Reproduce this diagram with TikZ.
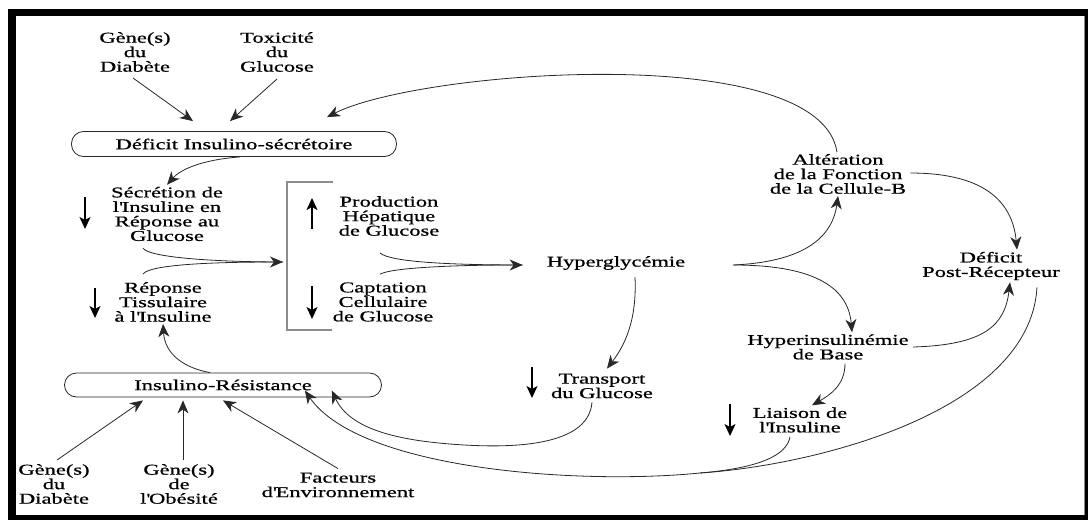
\documentclass[tikz,border=0pt]{standalone}
\usepackage{fontspec}
\setmainfont{Liberation Serif}[FakeStretch=1.5, FakeBold=0.8]
\usepackage{tikz}
\usetikzlibrary{arrows.meta, calc}
\definecolor{linegray}{RGB}{40,40,40}
\definecolor{brackgray}{RGB}{140,140,140}
\tikzstyle{ar} = [-{Stealth[length=13pt,width=11pt,inset=4pt]}, linegray, line width=0.8pt]
\tikzstyle{ind} = [-{Stealth[length=12pt,width=11pt,inset=3pt]}, black, line width=1.4pt]
\newcommand{\q}{\textquotesingle}

\begin{document}
\begin{tikzpicture}[x=1pt, y=1pt,
  lbl/.style={align=center, inner sep=2pt, font=\fontsize{15}{14.5}\selectfont},
  oval/.style={draw=linegray, line width=0.8pt, rounded corners=12pt, inner sep=0pt, font=\fontsize{15}{14.5}\selectfont},
  ln/.style={linegray, line width=0.8pt}]

  % frame
  \useasboundingbox (0,0) rectangle (1088,-520);
  \fill[black] (8,-9) rectangle (1088,-520);
  \fill[white] (16,-16) rectangle (1084,-515);
  \draw[brackgray, line width=1pt] (1084.5,-16) -- (1084.5,-515);

  \node[lbl] (geneD) at (135,-52) {Gène(s)\\du\\Diabète};
  \node[lbl] (toxic) at (277,-52) {Toxicité\\du\\Glucose};
  \node[oval, minimum width=325, minimum height=25] (defsec) at (234,-144) {Déficit Insulino-sécrétoire};

  \node[lbl] (secr) at (167,-214) {Sécrétion de\\l\q Insuline en\\Réponse au\\Glucose};
  \node[lbl] (tiss) at (163,-302) {Réponse\\Tissulaire\\à l\q Insuline};
  \node[lbl] (prod) at (389,-216) {Production\\Hépatique\\de Glucose};
  \node[lbl] (capt) at (383,-302) {Captation\\Cellulaire\\de Glucose};
  \node[lbl] (hyperg) at (616,-263) {Hyperglycémie};
  \node[lbl] (transp) at (602,-386) {Transport\\du Glucose};

  \node[lbl] (alter) at (838,-174) {Altération\\de la Fonction\\de la Cellule-B};
  \node[lbl] (postrec) at (991,-266) {Déficit\\Post-Récepteur};
  \node[lbl] (hyperi) at (828,-347) {Hyperinsulinémie\\de Base};
  \node[lbl] (liais) at (800,-420) {Liaison de\\l\q Insuline};

  \node[oval, minimum width=317, minimum height=24] (insres) at (223,-385) {Insulino-Résistance};
  \node[lbl] (geneD2) at (54,-484) {Gène(s)\\du\\Diabète};
  \node[lbl] (geneO) at (179,-484) {Gène(s)\\de\\l\q Obésité};
  \node[lbl] (envir) at (338,-485) {Facteurs\\d\q Environnement};

  % bracket round the two liver / cell boxes
  \draw[brackgray, line width=1.2pt] (333,-182) -| (287,-330) -- (332,-330);
  \coordinate (brk) at (283,-262);
  \coordinate (split) at ($(hyperg.east)+(46,-2)$);
  \coordinate (join) at (700,-473);

  % up / down indicators
  \draw[ind] (85,-197) -- (85,-229);
  \draw[ind] (312,-229) -- (312,-198);
  \draw[ind] (95,-288) -- (95,-318);
  \draw[ind] (312,-286) -- (312,-319);
  \draw[ind] (532,-367) -- (532,-398);
  \draw[ind] (730,-404) -- (730,-436);

  \draw[ar] (geneD.south) ++(-2,-4) -- ($(defsec.north)+(-41,10)$);
  \draw[ar] (toxic.south) ++(0,-5) -- ($(defsec.north)+(-4,10)$);
  \draw[ar] (alter.north) ++(-1,0) .. controls (820,-40) and (420,-70) .. ($(defsec.north)+(93,14)$);
  \draw[ar] (defsec.south) ++(6,0) .. controls (200,-160) and (180,-170) .. (secr.north);

  \draw[ln] (secr.south) ++(-24,-5) .. controls (150,-258) and (220,-262) .. (brk);
  \draw[ar] (tiss.north) ++(-20,6) .. controls (150,-264) and (220,-262) .. (brk);

  \draw[ln] (prod.south) ++(-9,-15) .. controls (390,-262) and (450,-265) .. ($(hyperg.west)+(-22,-2)$);
  \draw[ar] (capt.north) ++(-3,6) .. controls (390,-268) and (450,-265) .. ($(hyperg.west)+(-22,-2)$);

  \draw[ar] (hyperg.south) ++(19,-5) .. controls (637,-320) and (625,-345) .. ($(transp.north)+(5,3)$);
  \draw[ar] (transp.south) ++(-10,-2) .. controls (588,-450) and (500,-448) .. (450,-444)
        .. controls (400,-440) and (350,-430) .. ($(insres.north east)+(-50,-18)$);

  \draw[ar] (postrec.south) ++(46,-5) .. controls (1030,-410) and (820,-465) .. (join)
        .. controls (580,-485) and (360,-470) .. ($(insres.north east)+(-77,-18)$);
  \draw[ln] (liais.south) ++(-10,-2) .. controls (787,-455) and (760,-468) .. (join);

  \draw[ar] (split) .. controls (800,-262) and (832,-240) .. (alter.south);
  \draw[ar] (split) .. controls (810,-265) and (848,-285) .. (hyperi.north -| 852,0);
  \draw[ar] (alter.east) ++(2,1) .. controls (975,-173) and (1012,-195) .. (postrec.north -| 1017,0);
  \draw[ar] (hyperi.east) ++(2,0) .. controls (985,-345) and (1005,-325) .. (postrec.south -| 1010,0);
  \draw[ar] (hyperi.south) ++(17,-2) .. controls (845,-385) and (830,-395) .. ($(liais.north)+(12,0)$);

  \draw[ar] (insres.north) ++(-13,0) .. controls (185,-368) and (165,-355) .. (tiss.south);
  \draw[ar] (geneD2.north) ++(3,2) -- ($(insres.south)+(-80,-3)$);
  \draw[ar] (geneO.north) ++(4,2) -- ($(insres.south)+(-40,-3)$);
  \draw[ar] (envir.north) ++(0,2) -- ($(insres.south)+(0,-3)$);
\end{tikzpicture}
\end{document}
